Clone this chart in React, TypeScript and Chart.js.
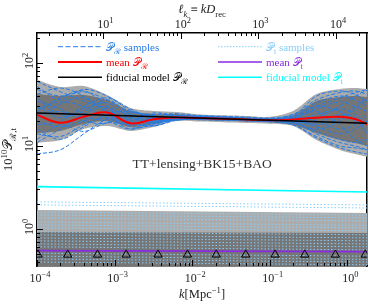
import React, { useEffect, useRef } from 'react';
import { Chart, registerables } from 'chart.js';

Chart.register(...registerables);

// ---------- data ----------
const D_REC = 14000; // Mpc, for the top axis l_k = k D_rec

const kGrid = [0.0001, 0.0002, 0.0004, 0.0008, 0.0016, 0.0032, 0.0063, 0.0126, 0.025, 0.05, 0.1, 0.2, 0.4, 0.8, 1.26, 1.8];

const meanPR = [23.6, 19.1, 22.5, 25.3, 18.8, 21.0, 22.0, 21.7, 21.3, 20.9, 20.4, 20.9, 21.9, 22.5, 21.2, 18.3];
const band95UpperPR = [62.4, 51.4, 52.8, 41.2, 28.7, 26.4, 25.7, 23.9, 23.4, 23.0, 22.5, 26.4, 42.3, 48.6, 50.0, 48.6];
const band95LowerPR = [10.9, 11.8, 16.0, 17.4, 15.2, 16.9, 20.0, 19.7, 19.3, 18.9, 18.5, 17.4, 11.8, 8.95, 8.0, 7.4];
const band68UpperPR = [42.3, 40.0, 41.2, 35.8, 26.4, 24.3, 24.3, 22.9, 22.5, 22.0, 21.6, 23.3, 34.9, 38.9, 40.0, 38.9];
const band68LowerPR = [14.3, 15.2, 18.4, 20.0, 16.9, 18.4, 20.6, 20.5, 20.1, 19.7, 19.3, 17.9, 14.3, 11.8, 10.9, 10.0];

const samplesPR: number[][] = [
  [48, 40, 45, 36, 26, 24, 24.5, 23.2, 22.8, 22.3, 21.8, 24, 36, 44, 46, 42],
  [14, 13, 18, 22, 16, 19, 21, 20.8, 20.4, 20.0, 19.5, 18, 13, 10, 9.5, 9],
  [30, 22, 28, 33, 22, 18.5, 22, 22.3, 21.8, 21.3, 20.8, 22, 28, 34, 30, 26],
  [22, 32, 38, 25, 18, 22, 23.5, 22.0, 21.5, 21.0, 20.5, 20, 17, 14, 16, 20],
  [60, 45, 35, 28, 24, 20, 21.5, 22.8, 22.4, 21.8, 21.3, 23, 30, 26, 20, 15],
  [11, 16, 24, 30, 20, 17.5, 21, 21.0, 20.8, 20.5, 20.1, 19, 16, 20, 28, 36],
  [35, 28, 20, 19, 25, 23, 22, 22.0, 21.7, 21.0, 20.5, 21, 24, 30, 40, 47],
  [18, 20, 30, 38, 28, 21, 20.5, 22.0, 21.9, 21.4, 21.0, 20, 19, 24, 22, 14],
  [26, 38, 46, 30, 17, 18, 22.5, 23.0, 22.4, 21.5, 20.6, 21.5, 26, 18, 12, 10],
  [42, 50, 40, 26, 20, 25, 23, 21.5, 21.3, 20.8, 20.7, 22.5, 20, 16, 18, 24],
  [16, 12, 17, 24, 26, 21, 20.5, 22.0, 21.7, 21.2, 20.8, 20, 22, 28, 24, 18],
  [8, 9, 14, 21, 22, 19, 21, 22.5, 22.2, 21.7, 21.2, 19, 15, 12, 11, 12],
  [24, 26, 22, 20, 16, 20, 22, 21.5, 21.2, 21.0, 20.6, 24, 33, 40, 36, 30],
  [38, 24, 26, 36, 24, 19.5, 21.5, 22.5, 21.9, 20.9, 20.3, 21.5, 18, 22, 30, 38],
  [20, 17, 20, 26, 21, 24, 23.5, 22.0, 21.3, 20.8, 20.3, 22, 30, 38, 44, 48],
  [28, 34, 30, 22, 19, 22, 22, 22.5, 21.9, 21.3, 20.9, 20, 14, 11, 10, 9],
  [52, 36, 48, 40, 27, 23, 21, 21.2, 21.0, 20.6, 20.0, 23, 40, 46, 42, 34],
  [12, 18, 15, 19, 18, 17.5, 20.5, 20.8, 20.6, 20.2, 19.8, 18, 12.5, 9.5, 8.5, 8],
];

const fiducialK = [0.0001, 1.8];
const fiducialPR = [25.0, 18.8];
const fiducialPt = [3.24, 2.79];
const meanPt = [0.548, 0.533];
const band95UpperPt = [1.69, 1.56];
const band68UpperPt = [0.92, 0.895];

const tensorSampleStart = [2.12, 1.95, 1.6, 1.48, 1.36, 1.21, 1.12, 1.03, 0.92, 0.85, 0.78, 0.72, 0.66, 0.61, 0.51, 0.47, 0.435, 0.4];
const tensorSampleEnd = [1.95, 1.79, 1.47, 1.36, 1.25, 1.11, 1.03, 0.95, 0.85, 0.78, 0.72, 0.66, 0.61, 0.56, 0.47, 0.43, 0.4, 0.37];

const triangleK = [0.000103, 0.000249, 0.000603, 0.00141, 0.00363, 0.0087, 0.0204, 0.049, 0.117, 0.282, 0.7, 1.7];
const triangleLevel = 0.49;

const xTickExponents = [-4, -3, -2, -1, 0];
const yTickExponents = [0, 1, 2];
const ellTickExponents = [1, 2, 3, 4];

const X_MIN = 0.0001, X_MAX = 1.8, Y_MIN = 0.358, Y_MAX = 230;

// ---------- styling ----------
const SERIF = "'Liberation Serif', 'DejaVu Serif', serif";
const C_SAMPLE = 'rgb(36,124,230)';
const C_TSAMPLE = 'rgb(135,206,250)';
const C_LIGHT = 'rgb(172,172,172)';
const C_DARK = 'rgb(118,118,118)';
const C_PURPLE = 'rgb(138,43,226)';
const C_CYAN = 'rgb(0,255,255)';

type Seg = { t: string; it?: boolean; s?: 'sub' | 'sup' };

function segFont(seg: Seg, size: number) {
  const sz = seg.s ? size * 0.7 : size;
  return `${seg.it ? 'italic ' : ''}${sz}px ${SERIF}`;
}

function drawRich(ctx: CanvasRenderingContext2D, segs: Seg[], x: number, y: number, size: number, color: string, align: 'left' | 'center' = 'left') {
  ctx.fillStyle = color;
  ctx.textBaseline = 'alphabetic';
  ctx.textAlign = 'left';
  const widths = segs.map((s) => { ctx.font = segFont(s, size); return ctx.measureText(s.t).width; });
  const total = widths.reduce((a, b) => a + b, 0);
  let cx = align === 'center' ? x - total / 2 : x;
  segs.forEach((s, i) => {
    ctx.font = segFont(s, size);
    const dy = s.s === 'sub' ? size * 0.28 : s.s === 'sup' ? -size * 0.42 : 0;
    ctx.fillText(s.t, cx, y + dy);
    cx += widths[i];
  });
}

const pts = (ks: number[], vs: number[]) => ks.map((k, i) => ({ x: k, y: vs[i] }));

const decorPlugin = {
  id: 'decor',
  afterDraw(chart: any) {
    const ctx: CanvasRenderingContext2D = chart.ctx;
    const { left, right, top, bottom } = chart.chartArea;
    const xs = chart.scales.x, xt = chart.scales.xTop, ys = chart.scales.y;
    ctx.save();
    ctx.strokeStyle = '#000';
    ctx.lineWidth = 1;
    const seg = (x1: number, y1: number, x2: number, y2: number) => { ctx.beginPath(); ctx.moveTo(x1, y1); ctx.lineTo(x2, y2); ctx.stroke(); };
    // inward ticks, bottom
    for (let e = -5; e <= 1; e++) for (let m = 1; m <= 9; m++) {
      const v = m * Math.pow(10, e);
      if (v < xs.min * 0.999 || v > xs.max) continue;
      const p = Math.round(xs.getPixelForValue(v)) + 0.5;
      seg(p, bottom, p, bottom - (m === 1 ? 6 : 3));
    }
    // top ticks (l_k)
    for (let e = 0; e <= 5; e++) for (let m = 1; m <= 9; m++) {
      const v = m * Math.pow(10, e);
      if (v < xt.min || v > xt.max) continue;
      const p = Math.round(xt.getPixelForValue(v)) + 0.5;
      seg(p, top, p, top + (m === 1 ? 6 : 3));
    }
    // left ticks
    for (let e = -1; e <= 2; e++) for (let m = 1; m <= 9; m++) {
      const v = m * Math.pow(10, e);
      if (v < ys.min || v > ys.max) continue;
      const p = Math.round(ys.getPixelForValue(v)) + 0.5;
      seg(left, p, left + (m === 1 ? 6 : 3), p);
    }
    // tick labels
    xTickExponents.forEach((e) => {
      const p = xs.getPixelForValue(Math.pow(10, e));
      drawRich(ctx, [{ t: '10' }, { t: e < 0 ? '\u2212' + Math.abs(e) : String(e), s: 'sup' }], p + 3, bottom + 16, 12, '#222', 'center');
    });
    ellTickExponents.forEach((e) => {
      const p = xt.getPixelForValue(Math.pow(10, e));
      drawRich(ctx, [{ t: '10' }, { t: String(e), s: 'sup' }], p + 2, top - 5, 12, '#222', 'center');
    });
    yTickExponents.forEach((e) => {
      const p = ys.getPixelForValue(Math.pow(10, e));
      ctx.save();
      ctx.translate(left - 4, p);
      ctx.rotate(-Math.PI / 2);
      drawRich(ctx, [{ t: '10' }, { t: String(e), s: 'sup' }], 2, 0, 12, '#222', 'center');
      ctx.restore();
    });
    // axis titles
    const cxm = (left + right) / 2, cym = (top + bottom) / 2;
    drawRich(ctx, [{ t: '\u2113', it: true }, { t: 'k', it: true, s: 'sub' }, { t: ' \u2261 ' }, { t: 'kD', it: true }, { t: 'rec', s: 'sub' }], cxm, 13, 12.5, '#222', 'center');
    drawRich(ctx, [{ t: 'k', it: true }, { t: '[Mpc' }, { t: '\u22121', s: 'sup' }, { t: ']' }], cxm, bottom + 32, 12.5, '#222', 'center');
    ctx.save();
    ctx.translate(12, cym);
    ctx.rotate(-Math.PI / 2);
    drawRich(ctx, [{ t: '10' }, { t: '10', s: 'sup' }, { t: '\uD835\uDCAB' }, { t: '\u211B,t', s: 'sub' }], 0, 0, 12.5, '#222', 'center');
    ctx.restore();
    // annotation
    drawRich(ctx, [{ t: 'TT+lensing+BK15+BAO' }], cxm, top + 135, 13.5, '#333', 'center');
    // legend
    const P = '\uD835\uDCAB';
    const rows = [top + 13.7, top + 29, top + 44.3];
    const colL = left + 21, colR = left + 181, lineLen = 44, fs = 11;
    const legend = [
      { x: colL, y: rows[0], color: C_SAMPLE, dash: [5, 2.5], w: 1, segs: [{ t: P }, { t: '\u211B', s: 'sub' }, { t: ' samples' }] },
      { x: colL, y: rows[1], color: 'rgb(255,0,0)', dash: [], w: 2, segs: [{ t: 'mean ' }, { t: P }, { t: '\u211B', s: 'sub' }] },
      { x: colL, y: rows[2], color: '#000', dash: [], w: 1.6, segs: [{ t: 'fiducial model ' }, { t: P }, { t: '\u211B', s: 'sub' }] },
      { x: colR, y: rows[0], color: C_TSAMPLE, dash: [1.5, 1.5], w: 1, segs: [{ t: P }, { t: 't', s: 'sub' }, { t: ' samples' }] },
      { x: colR, y: rows[1], color: C_PURPLE, dash: [], w: 1.6, segs: [{ t: 'mean ' }, { t: P }, { t: 't', s: 'sub' }] },
      { x: colR, y: rows[2], color: C_CYAN, dash: [], w: 1.6, segs: [{ t: 'fiducial model ' }, { t: P }, { t: 't', s: 'sub' }] },
    ];
    legend.forEach((l) => {
      ctx.save();
      ctx.strokeStyle = l.color;
      ctx.lineWidth = l.w;
      ctx.setLineDash(l.dash);
      seg(l.x, l.y, l.x + lineLen, l.y);
      ctx.restore();
      drawRich(ctx, l.segs as Seg[], l.x + lineLen + 4, l.y + 4, fs, l.color, 'left');
    });
    ctx.restore();
  },
};

export default function App() {
  const ref = useRef<HTMLCanvasElement | null>(null);
  useEffect(() => {
    if (!ref.current) return;
    const base = { pointRadius: 0, pointHoverRadius: 0, fill: false };
    const datasets: any[] = [];
    // scalar bands
    datasets.push({ ...base, data: pts(kGrid, band95UpperPR), borderWidth: 0, tension: 0.3, order: 20 });
    datasets.push({ ...base, data: pts(kGrid, band95LowerPR), borderWidth: 0, tension: 0.3, fill: '-1', backgroundColor: C_LIGHT, order: 20 });
    datasets.push({ ...base, data: pts(kGrid, band68UpperPR), borderWidth: 0, tension: 0.3, order: 19 });
    datasets.push({ ...base, data: pts(kGrid, band68LowerPR), borderWidth: 0, tension: 0.3, fill: '-1', backgroundColor: C_DARK, order: 19 });
    // tensor bands
    datasets.push({ ...base, data: pts(fiducialK, band95UpperPt), borderWidth: 0, fill: 'start', backgroundColor: C_LIGHT, order: 18 });
    datasets.push({ ...base, data: pts(fiducialK, band68UpperPt), borderWidth: 0, fill: 'start', backgroundColor: C_DARK, order: 17 });
    // samples
    samplesPR.forEach((s) => {
      datasets.push({ ...base, data: pts(kGrid, s), borderColor: C_SAMPLE, borderWidth: 1, borderDash: [4, 2], tension: 0.35, order: 10 });
    });
    tensorSampleStart.forEach((v, i) => {
      datasets.push({ ...base, data: pts(fiducialK, [v, tensorSampleEnd[i]]), borderColor: C_TSAMPLE, borderWidth: 1, borderDash: [1.5, 2], order: 10 });
    });
    // means & fiducials
    datasets.push({ ...base, data: pts(kGrid, meanPR), borderColor: 'rgb(255,0,0)', borderWidth: 2, tension: 0.4, order: 2 });
    datasets.push({ ...base, data: pts(fiducialK, fiducialPR), borderColor: '#000', borderWidth: 1.6, order: 1 });
    datasets.push({ ...base, data: pts(fiducialK, meanPt), borderColor: C_PURPLE, borderWidth: 1.6, order: 2 });
    datasets.push({ ...base, data: pts(fiducialK, fiducialPt), borderColor: C_CYAN, borderWidth: 1.6, order: 1 });
    // triangles
    datasets.push({
      data: triangleK.map((k) => ({ x: k, y: triangleLevel })), showLine: false, pointStyle: 'triangle', pointRadius: 4.8,
      pointBorderColor: '#000', pointBackgroundColor: 'rgba(0,0,0,0)', pointBorderWidth: 1, order: 0, clip: 0,
    });

    const axisCommon = {
      type: 'logarithmic' as const,
      ticks: { display: false },
      grid: { display: false, drawTicks: false },
      border: { display: true, color: '#000', width: 1.5 },
    };
    const chart = new Chart(ref.current, {
      type: 'line',
      data: { datasets },
      options: {
        animation: false,
        responsive: false,
        events: [],
        layout: { padding: { left: 37, right: 2.5, top: 33, bottom: 37 } },
        plugins: { legend: { display: false }, tooltip: { enabled: false } },
        scales: {
          x: { ...axisCommon, position: 'bottom', min: X_MIN, max: X_MAX },
          xTop: { ...axisCommon, position: 'top', min: X_MIN * D_REC, max: X_MAX * D_REC },
          y: { ...axisCommon, position: 'left', min: Y_MIN, max: Y_MAX },
          yRight: { ...axisCommon, position: 'right', min: Y_MIN, max: Y_MAX },
        } as any,
      },
      plugins: [decorPlugin],
    });
    return () => chart.destroy();
  }, []);
  return (
    <div style={{ position: 'fixed', left: 0, top: 0, width: 373, height: 303, background: '#fff' }}>
      <canvas ref={ref} width={373} height={303} />
    </div>
  );
}
